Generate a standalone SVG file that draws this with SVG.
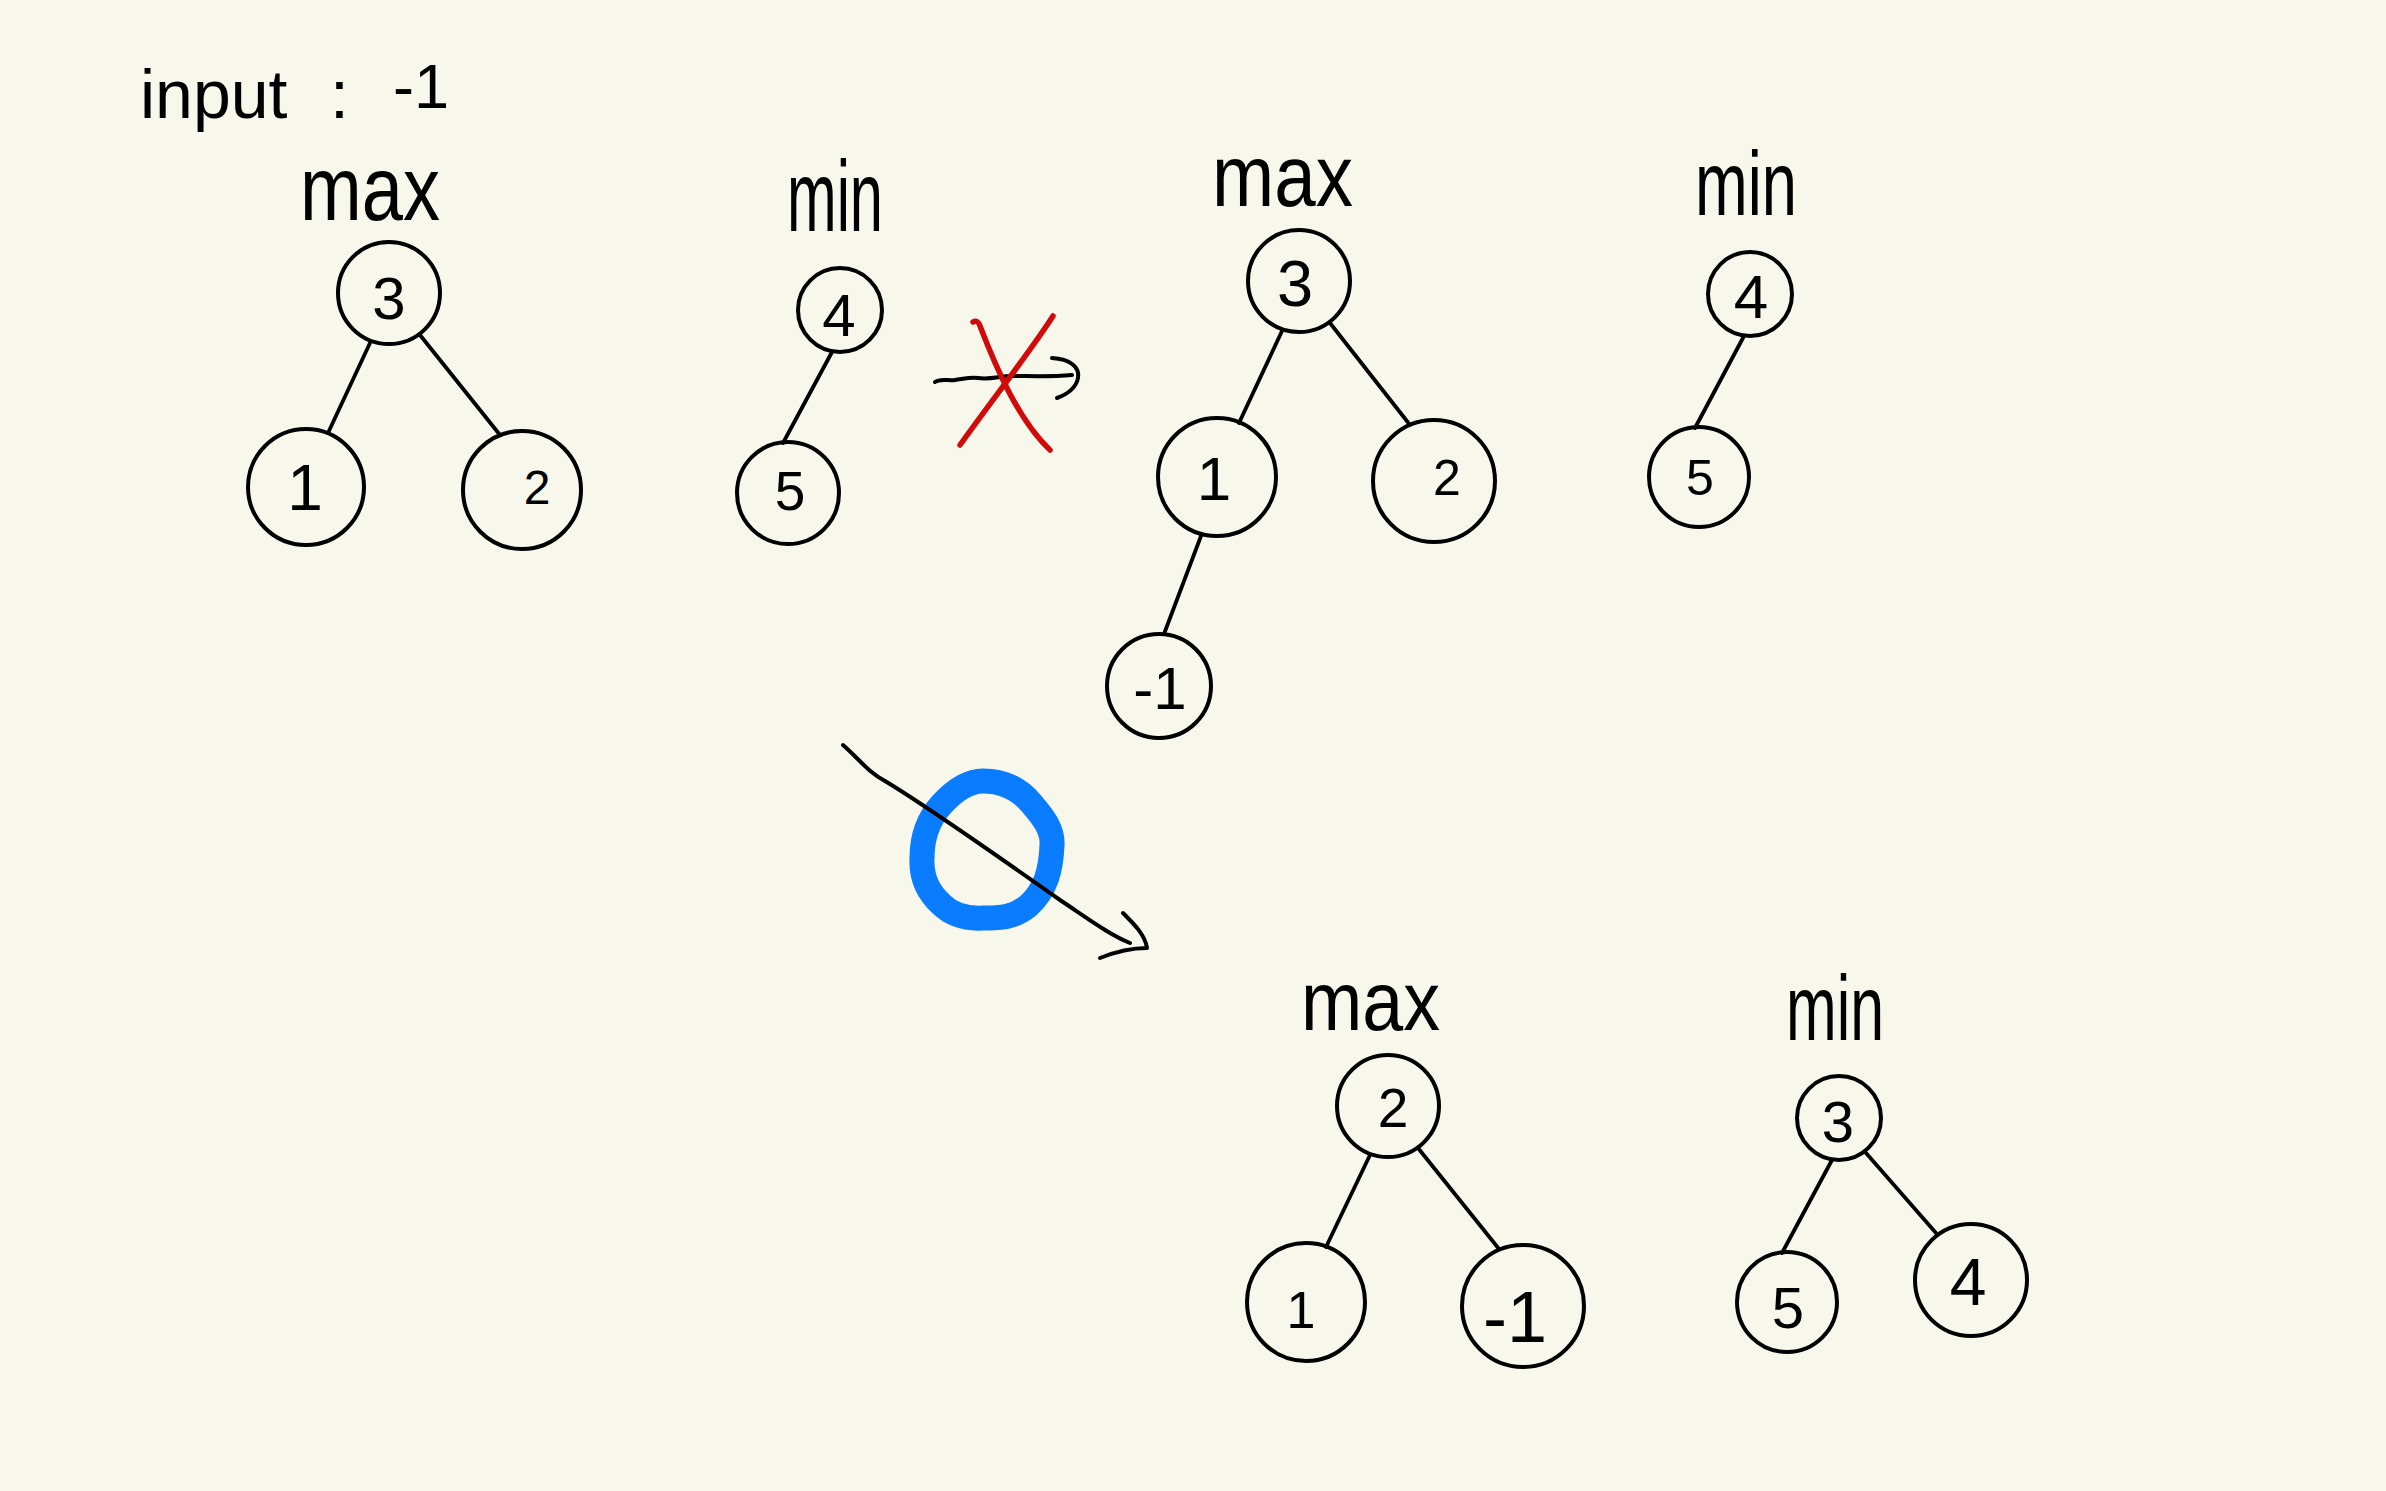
<svg xmlns="http://www.w3.org/2000/svg" width="2386" height="1491" viewBox="0 0 2386 1491">
<style>
.bg{fill:#f8f7ec}
.node circle{fill:none;stroke:#000;stroke-width:4}
.node text{font-family:"Liberation Sans",Arial,sans-serif;fill:#000;text-anchor:middle}
.edge{stroke:#000;stroke-width:3.8;stroke-linecap:round;fill:none}
.lbl{font-family:"Liberation Sans",Arial,sans-serif;fill:#000}
.ink{fill:none;stroke:#000;stroke-width:4;stroke-linecap:round;stroke-linejoin:round}
.red{fill:none;stroke:#d10a0a;stroke-width:5.5;stroke-linecap:round}
.blue{fill:none;stroke:#0a7cff;stroke-width:25;stroke-linejoin:round}
</style>
<rect class="bg" x="0" y="0" width="2386" height="1491"/>

<text class="lbl" y="118" font-size="68"><tspan x="140">input </tspan><tspan x="330">: </tspan><tspan x="393" y="108" font-size="63">-1</tspan></text>

<g id="labels">
<text class="lbl" x="300" y="220" font-size="90" textLength="140" lengthAdjust="spacingAndGlyphs">max</text>
<text class="lbl" x="787" y="231" font-size="100" textLength="96" lengthAdjust="spacingAndGlyphs">min</text>
<text class="lbl" x="1212" y="206" font-size="88" textLength="141" lengthAdjust="spacingAndGlyphs">max</text>
<text class="lbl" x="1695" y="215" font-size="90" textLength="102" lengthAdjust="spacingAndGlyphs">min</text>
<text class="lbl" x="1301" y="1030" font-size="84" textLength="139" lengthAdjust="spacingAndGlyphs">max</text>
<text class="lbl" x="1786" y="1040" font-size="92" textLength="98" lengthAdjust="spacingAndGlyphs">min</text>
</g>

<g id="connectors">
<line class="edge" x1="370" y1="343" x2="328" y2="433"/>
<line class="edge" x1="420" y1="335" x2="500" y2="435"/>
<line class="edge" x1="832" y1="352" x2="783" y2="443"/>
<line class="edge" x1="1282" y1="331" x2="1239" y2="423"/>
<line class="edge" x1="1330" y1="323" x2="1410" y2="425"/>
<line class="edge" x1="1201" y1="536" x2="1164" y2="634"/>
<line class="edge" x1="1744" y1="336" x2="1695" y2="428"/>
<line class="edge" x1="1370" y1="1155" x2="1326" y2="1247"/>
<line class="edge" x1="1418" y1="1148" x2="1499" y2="1249"/>
<line class="edge" x1="1832" y1="1160" x2="1782" y2="1253"/>
<line class="edge" x1="1866" y1="1153" x2="1936" y2="1233"/>
</g>

<g id="blocked-arrow">
<path class="ink" d="M935,382 C940,378 948,381 955,380 C963,379 970,377 978,378 C990,380 1000,376 1012,376 C1030,376 1050,377 1072,375"/>
<path class="ink" d="M1052,358 C1070,359 1080,367 1078,378 C1076,388 1068,394 1057,398"/>
<path class="red" d="M973,322 C976,320 979,322 980,326 C995,365 1018,420 1050,450"/>
<path class="red" d="M1053,316 C1030,352 992,400 960,445"/>
</g>

<g id="ok-arrow">
<path class="blue" d="M983,781 C1005,781 1020,790 1031,803 C1044,818 1053,830 1052,845 C1051,870 1046,890 1028,906 C1013,918 1000,918 983,918 C965,919 951,914 941,904 C927,891 921,875 922,858 C922,835 929,818 942,804 C954,791 968,781 983,781 Z"/>
<path class="ink" d="M843,745 C860,760 868,772 885,781 C930,808 1000,858 1060,900 C1090,920 1110,935 1130,943"/>
<path class="ink" d="M1123,913 C1135,925 1145,935 1147,948 C1130,948 1115,952 1100,958"/>
</g>

<g id="node-a3" class="node"><circle cx="389" cy="293" r="51"/><text x="389" y="319" font-size="60">3</text></g>
<g id="node-a1" class="node"><circle cx="306" cy="487" r="58"/><text x="305" y="510" font-size="64">1</text></g>
<g id="node-a2" class="node"><circle cx="522" cy="490" r="59"/><text x="537" y="504" font-size="48">2</text></g>

<g id="node-b4" class="node"><circle cx="840" cy="310" r="42"/><text x="839" y="336" font-size="60">4</text></g>
<g id="node-b5" class="node"><circle cx="788" cy="493" r="51"/><text x="790" y="510" font-size="55">5</text></g>

<g id="node-c3" class="node"><circle cx="1299" cy="281" r="51"/><text x="1295" y="306" font-size="65">3</text></g>
<g id="node-c1" class="node"><circle cx="1217" cy="477" r="59"/><text x="1214" y="500" font-size="62">1</text></g>
<g id="node-c2" class="node"><circle cx="1434" cy="481" r="61"/><text x="1447" y="495" font-size="50">2</text></g>
<g id="node-cm1" class="node"><circle cx="1159" cy="686" r="52"/><text x="1160" y="709" font-size="60">-1</text></g>

<g id="node-d4" class="node"><circle cx="1750" cy="294" r="42"/><text x="1751" y="318" font-size="62">4</text></g>
<g id="node-d5" class="node"><circle cx="1699" cy="477" r="50"/><text x="1700" y="495" font-size="50">5</text></g>

<g id="node-e2" class="node"><circle cx="1388" cy="1106" r="51"/><text x="1393" y="1127" font-size="55">2</text></g>
<g id="node-e1" class="node"><circle cx="1306" cy="1302" r="59"/><text x="1301" y="1328" font-size="52">1</text></g>
<g id="node-em1" class="node"><circle cx="1523" cy="1306" r="61"/><text x="1515" y="1342" font-size="72">-1</text></g>

<g id="node-f3" class="node"><circle cx="1839" cy="1118" r="42"/><text x="1838" y="1142" font-size="58">3</text></g>
<g id="node-f5" class="node"><circle cx="1787" cy="1302" r="50"/><text x="1788" y="1328" font-size="58">5</text></g>
<g id="node-f4" class="node"><circle cx="1971" cy="1280" r="56"/><text x="1968" y="1305" font-size="66">4</text></g>
</svg>
